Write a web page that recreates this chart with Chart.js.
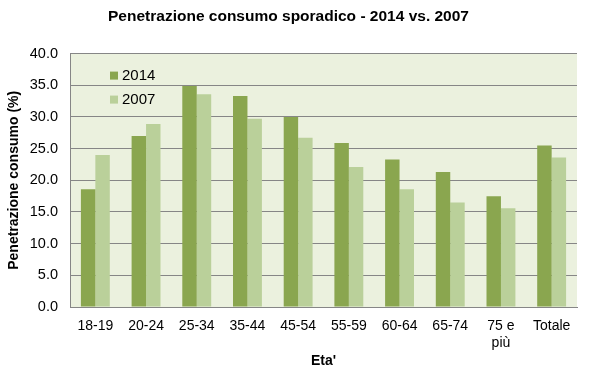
<!DOCTYPE html>
<html>
<head>
<meta charset="utf-8">
<script src="https://cdn.jsdelivr.net/npm/chart.js@4.4.0/dist/chart.umd.min.js"></script>
<style>
  html, body { margin: 0; padding: 0; background: #fff; }
  #wrap { width: 602px; height: 374px; position: relative; }
</style>
</head>
<body>
<div id="wrap"><canvas id="chart" width="602" height="374"></canvas></div>
<script>
// categorie (fasce d'età) e valori
const categories = ['18-19', '20-24', '25-34', '35-44', '45-54', '55-59', '60-64', '65-74', ['75 e', 'più'], 'Totale'];
const values2014 = [18.6, 27.0, 34.9, 33.3, 30.0, 25.9, 23.3, 21.3, 17.5, 25.5];
const values2007 = [24.0, 28.9, 33.6, 29.7, 26.7, 22.1, 18.6, 16.5, 15.6, 23.6];
const seriesLabels = ['2014', '2007'];
const yTicks = [0, 5, 10, 15, 20, 25, 30, 35, 40];

const FONT = '"Liberation Sans", Arial, sans-serif';

// sfondo dell'area del grafico
const plotBg = {
    id: 'plotBg',
    beforeDraw(chart) {
        const { ctx, chartArea: a } = chart;
        ctx.save();
        ctx.fillStyle = '#ebf1de';
        ctx.fillRect(a.left, a.top, a.right - a.left, a.bottom - a.top);
        ctx.restore();
    }
};

// legenda dentro l'area del grafico, in alto a sinistra
const innerLegend = {
    id: 'innerLegend',
    afterDraw(chart) {
        const { ctx, chartArea: a } = chart;
        ctx.save();
        ctx.font = '15px ' + FONT;
        ctx.textBaseline = 'middle';
        chart.data.datasets.forEach((ds, i) => {
            const y = a.top + 22 + i * 24;
            ctx.fillStyle = ds.backgroundColor;
            ctx.fillRect(a.left + 40, y - 4, 8, 8);
            ctx.fillStyle = '#000';
            ctx.fillText(ds.label, a.left + 52, y);
        });
        ctx.restore();
    }
};

const ctx = document.getElementById('chart').getContext('2d');
new Chart(ctx, {
    type: 'bar',
    data: {
        labels: categories,
        datasets: [
            { label: seriesLabels[0], data: values2014, backgroundColor: '#8aa64f' },
            { label: seriesLabels[1], data: values2007, backgroundColor: '#bad09a' }
        ]
    },
    options: {
        responsive: false,
        animation: false,
        devicePixelRatio: 1,
        layout: { padding: { left: 0, right: 25, top: 0, bottom: 0 } },
        datasets: { bar: { barPercentage: 1, categoryPercentage: 0.57 } },
        plugins: {
            legend: { display: false },
            tooltip: { enabled: false },
            title: {
                display: true,
                text: 'Penetrazione consumo sporadico - 2014 vs. 2007',
                color: '#000',
                font: { family: FONT, size: 15.5, weight: 'bold' },
                padding: { top: 7, bottom: 28 }
            }
        },
        scales: {
            x: {
                grid: { display: false, drawTicks: false },
                border: { display: true, color: '#868686', width: 1 },
                ticks: {
                    color: '#000',
                    font: { family: FONT, size: 14 },
                    padding: 11,
                    maxRotation: 0,
                    autoSkip: false
                },
                title: {
                    display: true,
                    text: "Eta'",
                    color: '#000',
                    font: { family: FONT, size: 14, weight: 'bold' },
                    padding: { top: 1 }
                },
                afterFit(scale) { scale.height = 67; }
            },
            y: {
                min: 0,
                max: 40,
                afterBuildTicks(scale) { scale.ticks = yTicks.map(v => ({ value: v })); },
                grid: { color: '#868686', drawTicks: false },
                border: { display: true, color: '#868686', width: 1 },
                ticks: {
                    color: '#000',
                    font: { family: FONT, size: 14.5 },
                    padding: 12,
                    callback: v => v.toFixed(1)
                },
                title: {
                    display: true,
                    text: 'Penetrazione consumo (%)',
                    color: '#000',
                    font: { family: FONT, size: 14, weight: 'bold' },
                    padding: { top: 6, bottom: 0 }
                },
                afterFit(scale) { scale.width = 70; }
            }
        }
    },
    plugins: [plotBg, innerLegend]
});
</script>
</body>
</html>
